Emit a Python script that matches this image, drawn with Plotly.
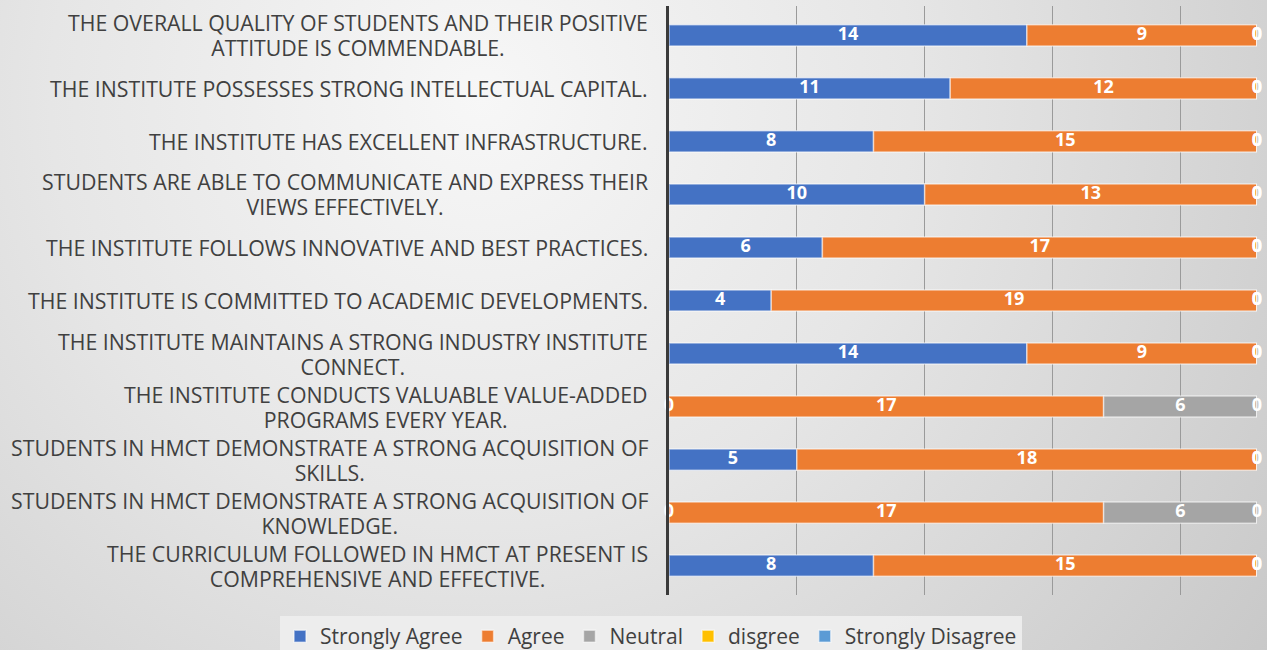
import base64
import plotly.graph_objects as go

categories = [
    "THE OVERALL QUALITY OF STUDENTS AND THEIR POSITIVE<br>ATTITUDE IS COMMENDABLE.",
    "THE INSTITUTE POSSESSES STRONG INTELLECTUAL CAPITAL.",
    "THE INSTITUTE HAS EXCELLENT INFRASTRUCTURE.",
    "STUDENTS ARE ABLE TO COMMUNICATE AND EXPRESS THEIR<br>VIEWS EFFECTIVELY.",
    "THE INSTITUTE FOLLOWS INNOVATIVE AND BEST PRACTICES.",
    "THE INSTITUTE IS COMMITTED TO ACADEMIC DEVELOPMENTS.",
    "THE INSTITUTE MAINTAINS A STRONG INDUSTRY INSTITUTE<br>CONNECT.",
    "THE INSTITUTE CONDUCTS VALUABLE VALUE-ADDED<br>PROGRAMS EVERY YEAR.",
    "STUDENTS IN HMCT DEMONSTRATE A STRONG ACQUISITION OF<br>SKILLS.",
    "STUDENTS IN HMCT DEMONSTRATE A STRONG ACQUISITION OF<br>KNOWLEDGE.",
    "THE CURRICULUM FOLLOWED IN HMCT AT PRESENT IS<br>COMPREHENSIVE AND EFFECTIVE.",
]
strongly_agree = [14, 11, 8, 10, 6, 4, 14, 0, 5, 0, 8]
agree = [9, 12, 15, 13, 17, 19, 9, 17, 18, 17, 15]
neutral = [0, 0, 0, 0, 0, 0, 0, 6, 0, 6, 0]
disagree = [0, 0, 0, 0, 0, 0, 0, 0, 0, 0, 0]
strongly_disagree = [0, 0, 0, 0, 0, 0, 0, 0, 0, 0, 0]

series_names = ["Strongly Agree", "Agree", "Neutral", "disgree", "Strongly Disagree"]
series_values = [strongly_agree, agree, neutral, disagree, strongly_disagree]
series_colors = ["#4472C4", "#ED7D31", "#A5A5A5", "#FFC000", "#5B9BD5"]
labelled = [True, True, True, True, False]

FONT = "Open Sans"
TEXT_COLOR = "#404040"

fig = go.Figure()

bases = [0] * len(categories)
label_traces = []
for name, vals, col, lab in zip(series_names, series_values, series_colors, labelled):
    fig.add_trace(go.Bar(
        y=categories, x=vals, base=bases, name=name, orientation="h",
        marker=dict(color=col, line=dict(color="rgba(255,255,255,0.55)", width=1.5)),
        width=0.40, hoverinfo="x+name",
    ))
    if lab:
        label_traces.append(go.Scatter(
            y=categories, x=[b + v / 2 for b, v in zip(bases, vals)],
            text=[str(v) for v in vals], mode="text", cliponaxis=False,
            textfont=dict(family=FONT, size=18, color="white", weight="bold"),
            showlegend=False, hoverinfo="skip",
        ))
    bases = [b + v for b, v in zip(bases, vals)]

for t in label_traces:
    fig.add_trace(t)

# category labels: right-aligned block, centred lines, tight line spacing
for c in categories:
    shown = "<br>".join(f'<span style="font-size:21.3px">{ln}</span>' for ln in c.split("<br>"))
    fig.add_annotation(
        x=0, xref="paper", y=c, yref="y", text=shown, showarrow=False,
        xanchor="right", yanchor="middle", align="center", xshift=-19,
        font=dict(family=FONT, size=19.3, color=TEXT_COLOR),
    )

W, H = 1267, 650
svg = f'''<svg xmlns="http://www.w3.org/2000/svg" width="{W}" height="{H}" viewBox="0 0 {W} {H}" preserveAspectRatio="none">
<defs><radialGradient id="g" cx="{0.38*W}" cy="{0.15*H}" r="{0.85*W}" gradientUnits="userSpaceOnUse">
<stop offset="0" stop-color="#f7f7f7"/><stop offset="0.4" stop-color="#e6e6e6"/><stop offset="1" stop-color="#c2c2c2"/>
</radialGradient></defs><rect width="{W}" height="{H}" fill="url(#g)"/></svg>'''
bg_uri = "data:image/svg+xml;base64," + base64.b64encode(svg.encode()).decode()

ML, MR, MT, MB = 669, 10, 6, 55
pw, ph = W - ML - MR, H - MT - MB

fig.add_layout_image(dict(
    source=bg_uri, xref="paper", yref="paper",
    x=-ML / pw, y=1 + MT / ph, sizex=W / pw, sizey=H / ph,
    xanchor="left", yanchor="top", sizing="stretch", layer="below",
))

fig.update_layout(
    width=W, height=H, barmode="overlay",
    margin=dict(l=ML, r=MR, t=MT, b=MB, autoexpand=False),
    paper_bgcolor="#e6e6e6", plot_bgcolor="rgba(0,0,0,0)",
    font=dict(family=FONT, color=TEXT_COLOR),
    xaxis=dict(range=[0, 23], dtick=5, showticklabels=False, showgrid=True,
               gridcolor="#9a9a9a", gridwidth=1, zeroline=False, fixedrange=True),
    yaxis=dict(categoryorder="array", categoryarray=categories, autorange="reversed",
               showticklabels=False, showgrid=False, showline=True,
               linecolor="#3a3a3a", linewidth=3, ticks="", zeroline=False),
    legend=dict(orientation="h", xref="paper", yref="paper",
                x=(280 - ML) / pw, xanchor="left", y=-(616 - (H - MB)) / ph, yanchor="top",
                bgcolor="rgba(238,238,238,0.9)", font=dict(size=21, color=TEXT_COLOR, family=FONT),
                traceorder="normal", itemwidth=30),
    showlegend=True,
)

fig.write_html("out.html", config={"displayModeBar": False},
               post_script="document.body.style.margin='0';")
